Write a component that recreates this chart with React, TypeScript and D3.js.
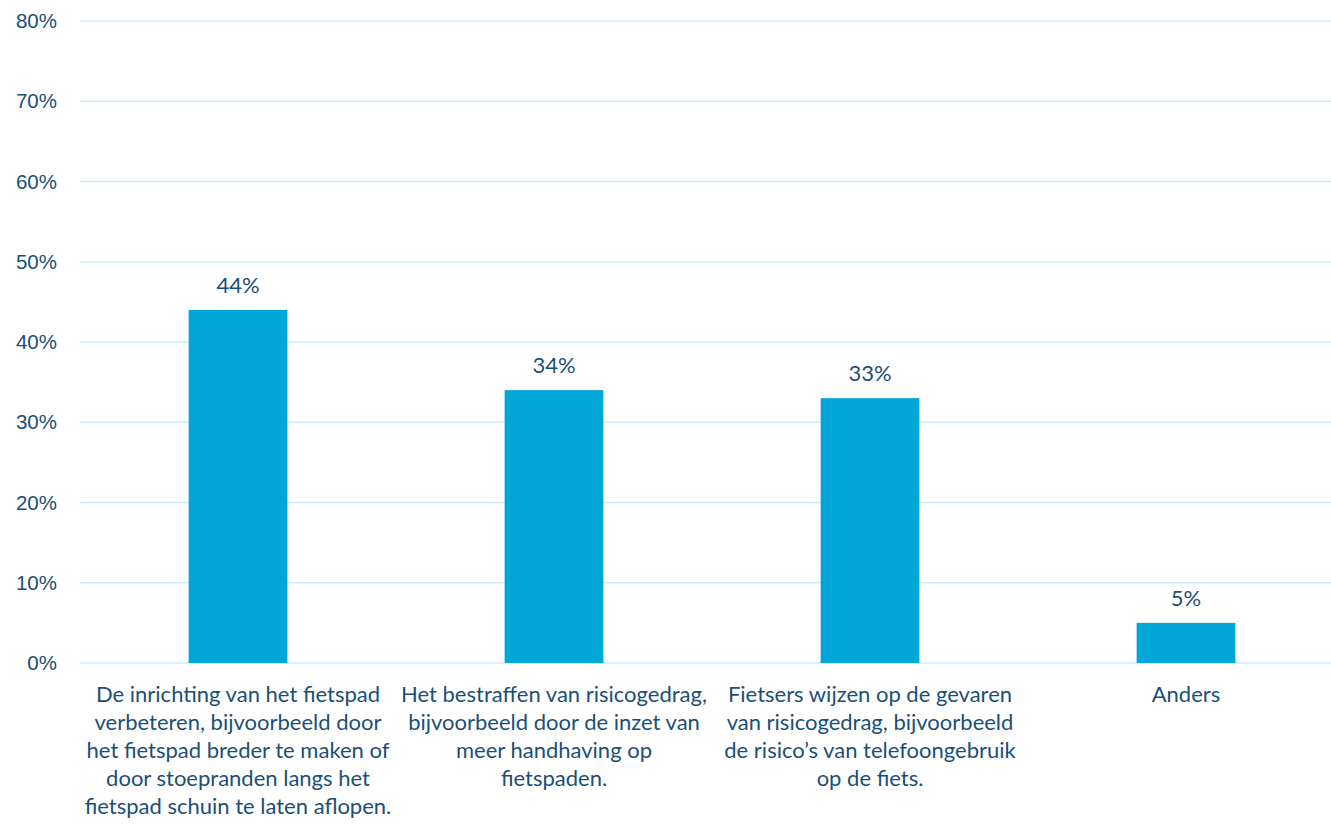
import React from "react";
import * as d3 from "d3";

const categories = [
  ["De inrichting van het fietspad", "verbeteren, bijvoorbeeld door", "het fietspad breder te maken of", "door stoepranden langs het", "fietspad schuin te laten aflopen."],
  ["Het bestraffen van risicogedrag,", "bijvoorbeeld door de inzet van", "meer handhaving op", "fietspaden."],
  ["Fietsers wijzen op de gevaren", "van risicogedrag, bijvoorbeeld", "de risico\u2019s van telefoongebruik", "op de fiets."],
  ["Anders"],
];
const values = [44, 34, 33, 5];
const yTicks = [0, 10, 20, 30, 40, 50, 60, 70, 80];

const W = 1331, H = 824;
const TEXT = "#1b4f78";
const BAR = "#00a6d6";
const GRID = "#cdebf8";
const LABEL_FONT = "'Lato', 'Source Sans Pro', sans-serif";

export default function App() {
  const x = d3.scaleBand<number>().domain(d3.range(values.length)).range([80, 1344]).paddingInner(0.6875).paddingOuter(0.34375);
  const y = d3.scaleLinear().domain([0, 80]).range([663, 21]);
  return (
    <svg width={W} height={H} style={{ position: "absolute", left: 0, top: 0, background: "#fff" }}>
      {yTicks.map((t) => (
        <g key={t}>
          <line x1={80} x2={W} y1={y(t)} y2={y(t)} stroke={GRID} strokeWidth={1.5} />
          <text x={57} y={y(t)} dy="0.35em" textAnchor="end" fontFamily="'Liberation Sans', Arial, sans-serif" fontSize={20.5} fill={TEXT}>{t}%</text>
        </g>
      ))}
      {values.map((v, i) => (
        <g key={i}>
          <rect x={x(i)} y={y(v)} width={x.bandwidth()} height={y(0) - y(v)} fill={BAR} />
          <text x={(x(i) as number) + x.bandwidth() / 2} y={y(v) - 17} textAnchor="middle" fontFamily={LABEL_FONT} fontSize={22} fill={TEXT}>{v}%</text>
          {categories[i].map((line, j) => (
            <text key={j} x={(x(i) as number) + x.bandwidth() / 2} y={702 + j * 28} textAnchor="middle" fontFamily={LABEL_FONT} fontSize={22} fill={TEXT}>{line}</text>
          ))}
        </g>
      ))}
    </svg>
  );
}
